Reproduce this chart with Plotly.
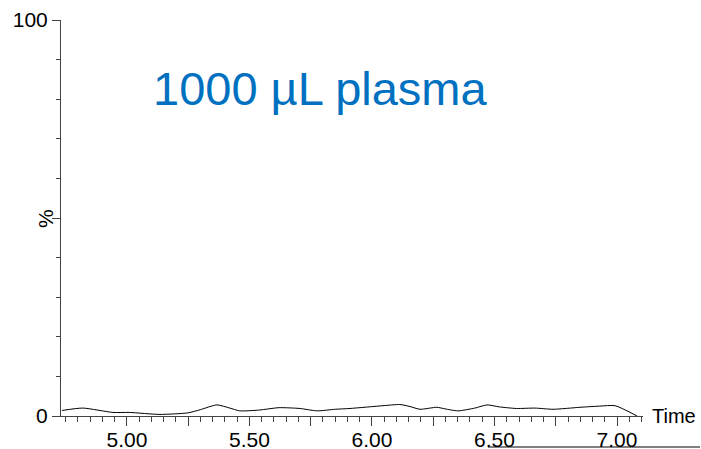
import plotly.graph_objects as go

# Chromatogram trace (time in min, relative intensity %)
time = [4.735, 4.82, 4.943, 5.01, 5.135, 5.25, 5.30, 5.367, 5.42, 5.46, 5.54, 5.62,
        5.706, 5.776, 5.85, 5.91, 6.045, 6.114, 6.155, 6.196, 6.265, 6.298, 6.351,
        6.42, 6.47, 6.52, 6.59, 6.665, 6.739, 6.849, 6.93, 6.992, 7.082]
intensity = [1.4, 2.0, 0.9, 0.9, 0.4, 0.8, 1.6, 2.8, 2.0, 1.3, 1.5, 2.1,
             1.9, 1.3, 1.7, 1.9, 2.6, 2.9, 2.4, 1.7, 2.2, 1.8, 1.3,
             2.0, 2.8, 2.3, 1.9, 2.0, 1.7, 2.2, 2.5, 2.6, 0.0]

x_major = [5.00, 5.25, 5.50, 5.75, 6.00, 6.25, 6.50, 6.75, 7.00]
x_labels = ["5.00", "", "5.50", "", "6.00", "", "6.50", "", "7.00"]
y_major = [0, 50, 100]
y_labels = ["0", "", "100"]
title_text = "1000 µL plasma"
x_title = "Time"
y_title = "%"

FONT = "Liberation Sans, Arial, sans-serif"
AX = "#444444"

fig = go.Figure()
fig.add_trace(go.Scatter(x=time, y=intensity, mode="lines",
                         line=dict(color="black", width=1, shape="spline", smoothing=0.6),
                         showlegend=False, hoverinfo="skip"))

fig.update_layout(
    width=701, height=449,
    margin=dict(l=61, r=58, t=20, b=33, autoexpand=False),
    paper_bgcolor="white", plot_bgcolor="white",
    font=dict(family=FONT, size=21, color="black"),
    xaxis=dict(range=[4.731, 7.106], showgrid=False, zeroline=False, automargin=False,
               showline=True, linecolor=AX, linewidth=1,
               tickmode="array", tickvals=x_major, ticktext=x_labels,
               ticks="outside", ticklen=9, tickcolor=AX, tickwidth=1,
               ticklabelstandoff=-4,
               tickfont=dict(family=FONT, size=21, color="black"),
               minor=dict(tickmode="linear", tick0=0, dtick=0.05, ticks="outside",
                          ticklen=5, tickcolor=AX, tickwidth=1, showgrid=False)),
    yaxis=dict(range=[0, 100], showgrid=False, zeroline=False, automargin=False,
               showline=True, linecolor=AX, linewidth=1,
               tickmode="array", tickvals=y_major, ticktext=y_labels,
               ticks="outside", ticklen=8, tickcolor=AX, tickwidth=1,
               tickfont=dict(family=FONT, size=21, color="black"),
               minor=dict(tickmode="linear", tick0=0, dtick=10, ticks="outside",
                          ticklen=4, tickcolor=AX, tickwidth=1, showgrid=False)),
    annotations=[
        dict(text=title_text, x=0.446, y=0.828, xref="paper", yref="paper",
             xanchor="center", yanchor="middle", showarrow=False,
             font=dict(family=FONT, size=47, color="#0070C0")),
        dict(text=x_title, x=1.012, y=0.0, xref="paper", yref="paper",
             xanchor="left", yanchor="middle", showarrow=False,
             font=dict(family=FONT, size=20, color="black")),
        dict(text=y_title, x=-0.0275, y=0.5, xref="paper", yref="paper",
             xanchor="center", yanchor="middle", showarrow=False, textangle=-90,
             font=dict(family=FONT, size=21, color="black")),
    ],
    shapes=[dict(type="line", xref="paper", yref="paper",
                 x0=0.7337, x1=1.098, y0=-0.0783, y1=-0.0783,
                 line=dict(color="black", width=1))],
)

# remove the default page margin so the figure fills the window exactly
fig.write_html("out.html",
               config={"displayModeBar": False, "staticPlot": True},
               post_script="document.body.style.margin='0';"
                           "document.body.style.overflow='hidden';"
                           "document.documentElement.style.overflow='hidden';")
